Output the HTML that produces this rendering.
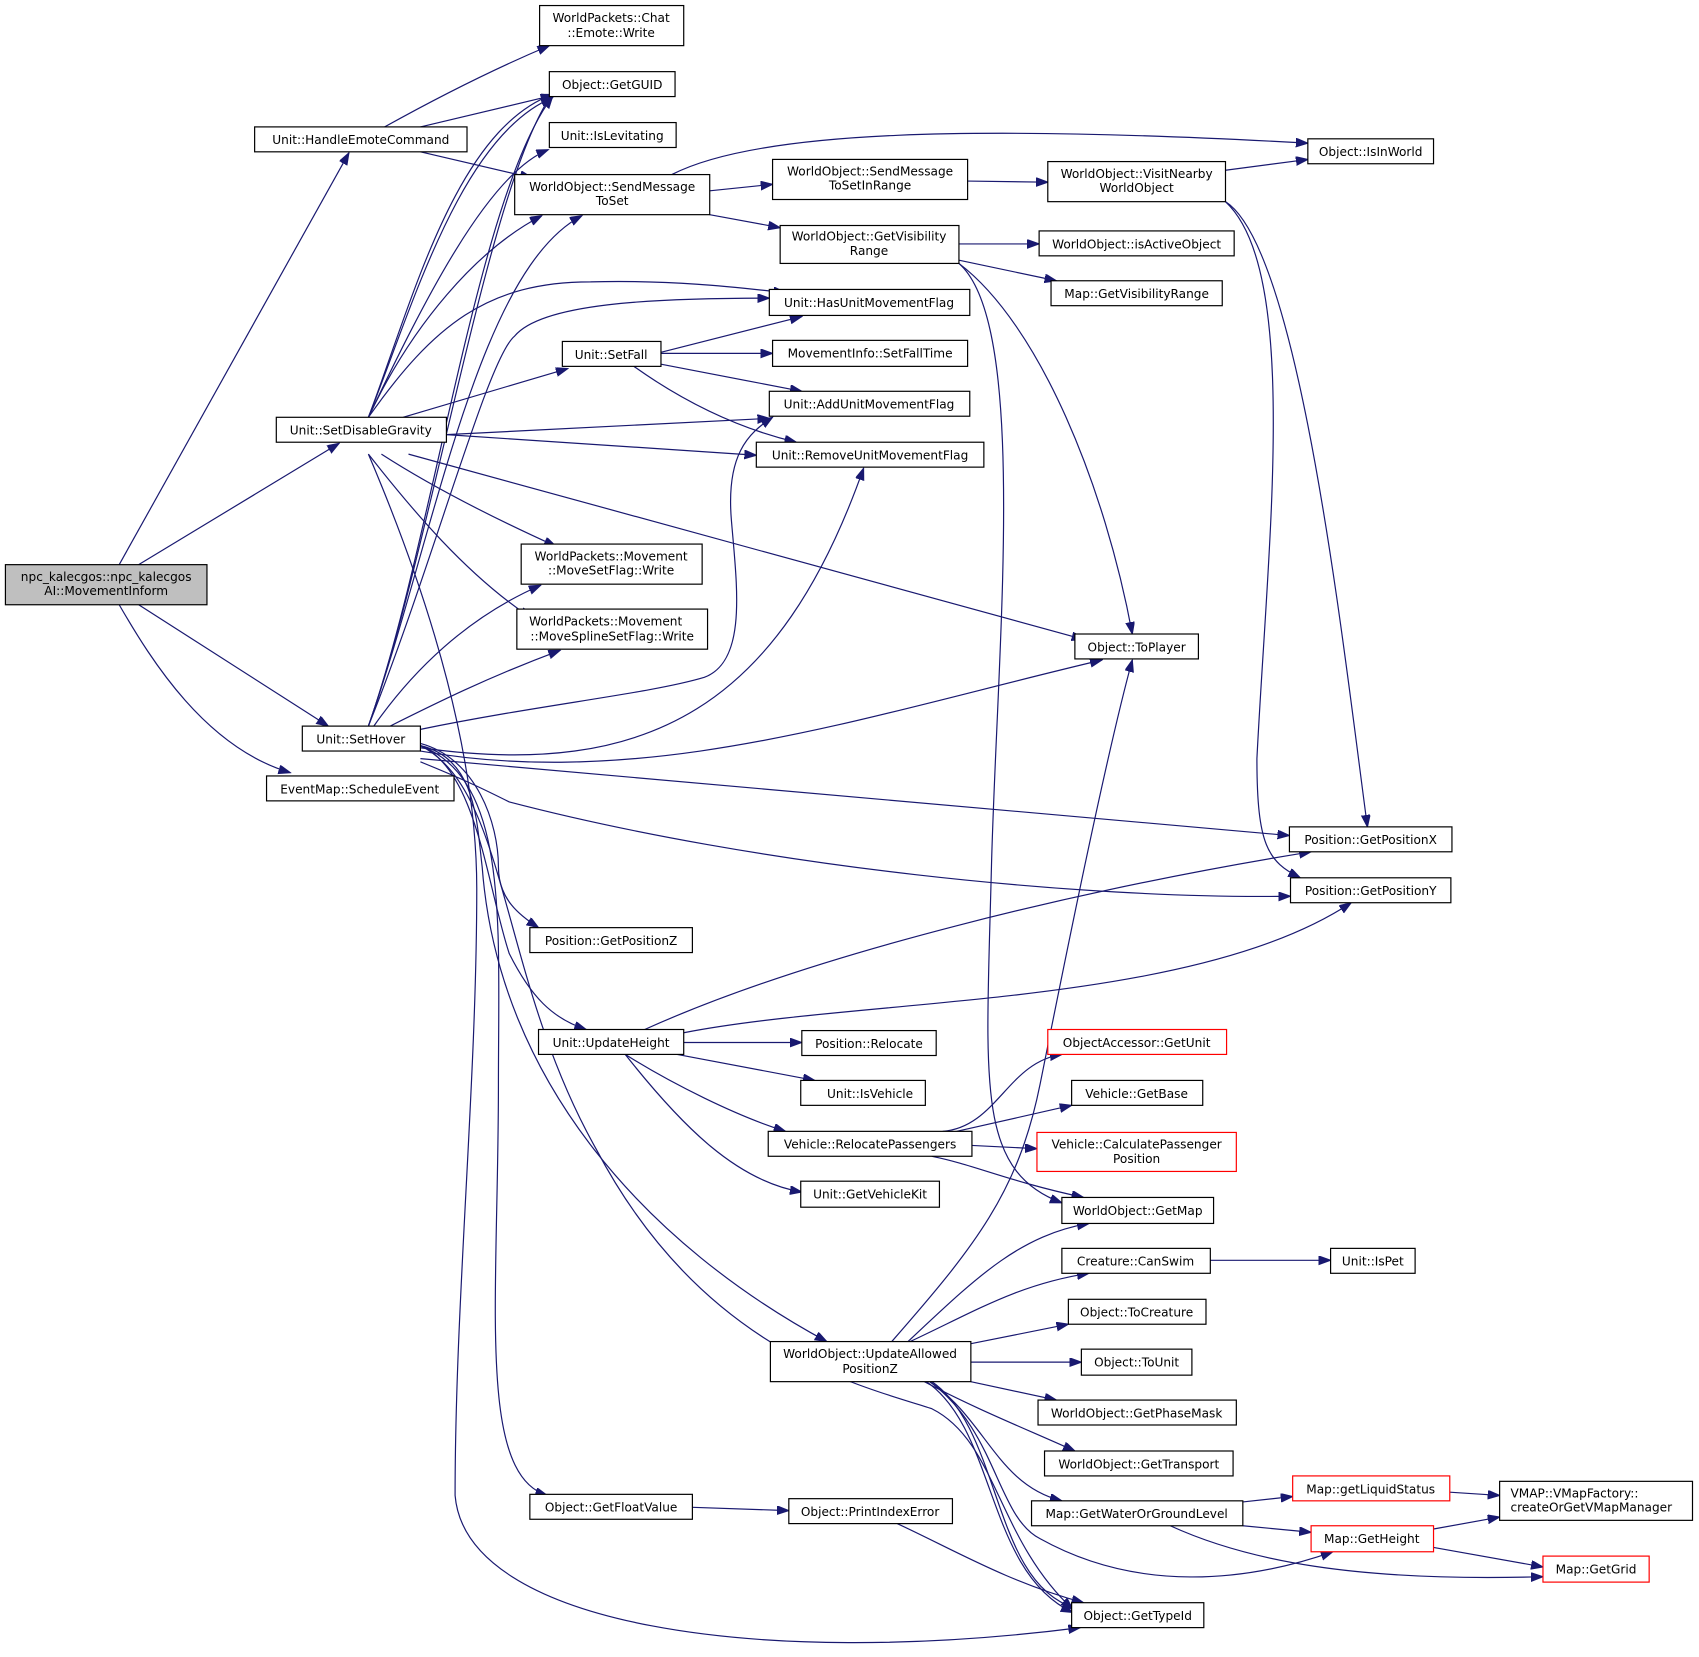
<!DOCTYPE html>
<html><head><meta charset="utf-8"><style>
html,body{margin:0;padding:0;background:#fff;}
svg{display:block}
text{font-family:"DejaVu Sans","Liberation Sans",sans-serif;font-size:11.2px;fill:#000}
.n{fill:#fff;stroke:#000;stroke-width:1.1}
.r{fill:#fff;stroke:#f00;stroke-width:1.1}
.e{fill:none;stroke:#191970;stroke-width:1.1;marker-end:url(#a)}
</style></head><body>
<svg width="1699" height="1657" viewBox="0 0 1568 1529" xmlns="http://www.w3.org/2000/svg">
<defs><marker id="a" markerUnits="userSpaceOnUse" markerWidth="12" markerHeight="10" refX="11" refY="4" orient="auto"><path d="M0,0 L11,4 L0,8 Z" fill="#191970" stroke="#191970"/></marker></defs>
<g>
<path class="e" d="M110,521 L322,141"/>
<path class="e" d="M128,521 L313,409"/>
<path class="e" d="M128,558 L303,670"/>
<path class="e" d="M110,558 C140,610 190,690 268,713"/>
<path class="e" d="M355,117 C400,92 450,66 507,42"/>
<path class="e" d="M388,117 L510,88"/>
<path class="e" d="M388,140 L491,164"/>
<path class="e" d="M340,385 C380,280 420,120 510,87"/>
<path class="e" d="M340,385 C380,285 425,125 510,90"/>
<path class="e" d="M340,385 C390,280 450,160 506,138"/>
<path class="e" d="M340,385 C380,300 440,230 500,199"/>
<path class="e" d="M340,385 C400,300 450,260 545,260 C620,258 680,265 725,270"/>
<path class="e" d="M372,385 L524,340"/>
<path class="e" d="M412,401 L710,386"/>
<path class="e" d="M412,401 L698,420"/>
<path class="e" d="M377,419 L1000,590"/>
<path class="e" d="M352,419 C400,450 460,480 513,504"/>
<path class="e" d="M340,419 C380,470 430,530 490,570"/>
<path class="e" d="M340,419 C400,560 440,700 440,820 C440,1000 420,1200 420,1380 C430,1500 700,1540 997,1502"/>
<path class="e" d="M340,670 C400,500 450,170 510,86"/>
<path class="e" d="M340,670 C400,500 440,180 510,89"/>
<path class="e" d="M340,670 C400,500 440,250 537,199"/>
<path class="e" d="M340,670 C400,520 450,330 475,310 C500,280 600,275 710,275"/>
<path class="e" d="M345,670 C380,620 430,570 499,540"/>
<path class="e" d="M360,670 C400,650 450,625 517,600"/>
<path class="e" d="M388,673 C500,650 600,640 650,625 C690,610 680,540 675,480 C670,420 690,400 713,385"/>
<path class="e" d="M388,690 C600,720 720,650 797,432"/>
<path class="e" d="M388,693 C600,730 800,660 1017,609"/>
<path class="e" d="M388,700 L1190,771"/>
<path class="e" d="M388,703 C430,720 450,730 470,740 C700,800 1000,830 1191,827"/>
<path class="e" d="M388,686 C440,700 460,760 460,800 C460,830 480,845 497,856"/>
<path class="e" d="M388,688 C440,710 450,820 470,880 C490,920 510,940 541,950"/>
<path class="e" d="M388,688 C440,700 440,760 445,800 C460,1000 600,1150 763,1238"/>
<path class="e" d="M388,688 C470,720 460,850 460,1000 C460,1200 440,1360 505,1380"/>
<path class="e" d="M388,688 C470,730 460,900 550,1060 C650,1250 800,1280 860,1300 C920,1330 920,1420 990,1485"/>
<path class="e" d="M620,161 C700,120 900,115 1207,132"/>
<path class="e" d="M655,176 L713,170"/>
<path class="e" d="M655,198 L720,210"/>
<path class="e" d="M893,167 L967,168"/>
<path class="e" d="M1131,157 L1207,147"/>
<path class="e" d="M1131,186 C1200,230 1240,600 1262,763"/>
<path class="e" d="M1131,186 C1200,250 1170,500 1160,700 C1160,780 1170,795 1200,810"/>
<path class="e" d="M885,225 L959,225"/>
<path class="e" d="M885,240 L975,259"/>
<path class="e" d="M885,243 C960,300 1020,450 1045,585"/>
<path class="e" d="M885,243 C950,300 920,600 915,800 C910,1000 900,1080 980,1110"/>
<path class="e" d="M610,325 L740,292"/>
<path class="e" d="M610,326 L713,326"/>
<path class="e" d="M610,336 L740,361"/>
<path class="e" d="M585,338 C630,370 680,395 735,408"/>
<path class="e" d="M595,950 C750,880 1000,820 1210,786"/>
<path class="e" d="M631,953 C800,920 1100,930 1247,833"/>
<path class="e" d="M631,962 L740,962"/>
<path class="e" d="M625,973 L752,997"/>
<path class="e" d="M577,973 C620,1000 680,1030 725,1044"/>
<path class="e" d="M577,973 C630,1040 680,1090 740,1100"/>
<path class="e" d="M870,1044 C920,1040 930,980 980,973"/>
<path class="e" d="M883,1044 L989,1020"/>
<path class="e" d="M897,1057 L957,1060"/>
<path class="e" d="M860,1067 C900,1075 930,1090 1000,1105"/>
<path class="e" d="M823,1238 C900,1150 940,1100 960,1000 C980,900 1020,700 1045,609"/>
<path class="e" d="M838,1238 C900,1180 940,1140 1005,1129"/>
<path class="e" d="M840,1238 C900,1210 940,1185 1005,1175"/>
<path class="e" d="M896,1240 L986,1222"/>
<path class="e" d="M896,1257 L998,1257"/>
<path class="e" d="M896,1275 L975,1292"/>
<path class="e" d="M853,1275 C900,1300 950,1320 992,1339"/>
<path class="e" d="M858,1275 C910,1310 920,1370 980,1385"/>
<path class="e" d="M855,1275 C920,1320 910,1450 990,1488"/>
<path class="e" d="M860,1275 C925,1320 915,1460 992,1484"/>
<path class="e" d="M858,1275 C920,1320 920,1400 960,1420 C1050,1470 1150,1460 1230,1432"/>
<path class="e" d="M1117,1163 L1228,1163"/>
<path class="e" d="M639,1391 L728,1394"/>
<path class="e" d="M828,1406 C880,1430 930,1460 1000,1479"/>
<path class="e" d="M1147,1386 L1193,1381"/>
<path class="e" d="M1147,1408 L1210,1414"/>
<path class="e" d="M1080,1408 C1150,1440 1250,1460 1424,1455"/>
<path class="e" d="M1338,1377 L1384,1380"/>
<path class="e" d="M1323,1411 L1384,1400"/>
<path class="e" d="M1323,1428 L1424,1446"/>
</g>
<g text-anchor="middle">
<rect x="5" y="521" width="186" height="37" fill="#bfbfbf" stroke="#000" stroke-width="1.1"/><text x="98" y="536">npc_kalecgos::npc_kalecgos</text><text x="98" y="549">AI::MovementInform</text>
<rect class="n" x="498" y="5" width="133" height="37"/><text x="564" y="20">WorldPackets::Chat</text><text x="564" y="34">::Emote::Write</text>
<rect class="n" x="507" y="66" width="116" height="23"/><text x="565" y="82">Object::GetGUID</text>
<rect class="n" x="235" y="117" width="196" height="23"/><text x="333" y="133">Unit::HandleEmoteCommand</text>
<rect class="n" x="507" y="113" width="117" height="23"/><text x="565" y="129">Unit::IsLevitating</text>
<rect class="n" x="475" y="161" width="180" height="37"/><text x="565" y="176">WorldObject::SendMessage</text><text x="565" y="189">ToSet</text>
<rect class="n" x="1207" y="128" width="116" height="23"/><text x="1265" y="144">Object::IsInWorld</text>
<rect class="n" x="713" y="147" width="180" height="37"/><text x="803" y="162">WorldObject::SendMessage</text><text x="803" y="175">ToSetInRange</text>
<rect class="n" x="967" y="149" width="164" height="37"/><text x="1049" y="164">WorldObject::VisitNearby</text><text x="1049" y="177">WorldObject</text>
<rect class="n" x="720" y="208" width="165" height="35"/><text x="802" y="222">WorldObject::GetVisibility</text><text x="802" y="235">Range</text>
<rect class="n" x="959" y="213" width="180" height="23"/><text x="1049" y="229">WorldObject::isActiveObject</text>
<rect class="n" x="970" y="259" width="158" height="23"/><text x="1049" y="275">Map::GetVisibilityRange</text>
<rect class="n" x="710" y="267" width="185" height="24"/><text x="802" y="283">Unit::HasUnitMovementFlag</text>
<rect class="n" x="519" y="315" width="91" height="23"/><text x="564" y="331">Unit::SetFall</text>
<rect class="n" x="713" y="314" width="180" height="24"/><text x="803" y="330">MovementInfo::SetFallTime</text>
<rect class="n" x="710" y="361" width="185" height="23"/><text x="802" y="377">Unit::AddUnitMovementFlag</text>
<rect class="n" x="255" y="385" width="157" height="23"/><text x="333" y="401">Unit::SetDisableGravity</text>
<rect class="n" x="698" y="408" width="210" height="23"/><text x="803" y="424">Unit::RemoveUnitMovementFlag</text>
<rect class="n" x="481" y="502" width="167" height="37"/><text x="564" y="517">WorldPackets::Movement</text><text x="564" y="530">::MoveSetFlag::Write</text>
<rect class="n" x="477" y="562" width="176" height="37"/><text x="559" y="577">WorldPackets::Movement</text><text x="565" y="591">::MoveSplineSetFlag::Write</text>
<rect class="n" x="992" y="585" width="114" height="23"/><text x="1049" y="601">Object::ToPlayer</text>
<rect class="n" x="279" y="670" width="109" height="23"/><text x="333" y="686">Unit::SetHover</text>
<rect class="n" x="246" y="716" width="173" height="23"/><text x="332" y="732">EventMap::ScheduleEvent</text>
<rect class="n" x="1190" y="763" width="150" height="23"/><text x="1265" y="779">Position::GetPositionX</text>
<rect class="n" x="1191" y="810" width="148" height="23"/><text x="1265" y="826">Position::GetPositionY</text>
<rect class="n" x="489" y="856" width="150" height="23"/><text x="564" y="872">Position::GetPositionZ</text>
<rect class="n" x="497" y="950" width="134" height="23"/><text x="564" y="966">Unit::UpdateHeight</text>
<rect class="n" x="740" y="951" width="124" height="23"/><text x="802" y="967">Position::Relocate</text>
<rect class="r" x="967" y="950" width="165" height="23"/><text x="1049" y="966">ObjectAccessor::GetUnit</text>
<rect class="n" x="739" y="997" width="115" height="23"/><text x="803" y="1013">Unit::IsVehicle</text>
<rect class="n" x="989" y="997" width="121" height="23"/><text x="1049" y="1013">Vehicle::GetBase</text>
<rect class="n" x="709" y="1044" width="188" height="23"/><text x="803" y="1060">Vehicle::RelocatePassengers</text>
<rect class="r" x="957" y="1045" width="184" height="36"/><text x="1049" y="1060">Vehicle::CalculatePassenger</text><text x="1049" y="1073">Position</text>
<rect class="n" x="739" y="1090" width="128" height="24"/><text x="803" y="1106">Unit::GetVehicleKit</text>
<rect class="n" x="980" y="1105" width="140" height="24"/><text x="1050" y="1121">WorldObject::GetMap</text>
<rect class="n" x="980" y="1152" width="137" height="23"/><text x="1048" y="1168">Creature::CanSwim</text>
<rect class="n" x="1228" y="1152" width="78" height="23"/><text x="1267" y="1168">Unit::IsPet</text>
<rect class="n" x="986" y="1199" width="127" height="23"/><text x="1049" y="1215">Object::ToCreature</text>
<rect class="n" x="711" y="1238" width="185" height="37"/><text x="803" y="1253">WorldObject::UpdateAllowed</text><text x="803" y="1267">PositionZ</text>
<rect class="n" x="998" y="1245" width="102" height="24"/><text x="1049" y="1261">Object::ToUnit</text>
<rect class="n" x="958" y="1292" width="183" height="23"/><text x="1049" y="1308">WorldObject::GetPhaseMask</text>
<rect class="n" x="964" y="1339" width="174" height="23"/><text x="1051" y="1355">WorldObject::GetTransport</text>
<rect class="r" x="1193" y="1362" width="145" height="23"/><text x="1265" y="1378">Map::getLiquidStatus</text>
<rect class="n" x="1384" y="1367" width="178" height="36"/>
<rect class="n" x="952" y="1385" width="195" height="23"/><text x="1049" y="1401">Map::GetWaterOrGroundLevel</text>
<rect class="n" x="489" y="1379" width="150" height="23"/><text x="564" y="1395">Object::GetFloatValue</text>
<rect class="n" x="728" y="1383" width="151" height="23"/><text x="803" y="1399">Object::PrintIndexError</text>
<rect class="r" x="1210" y="1408" width="113" height="24"/><text x="1266" y="1424">Map::GetHeight</text>
<rect class="r" x="1424" y="1436" width="98" height="24"/><text x="1473" y="1452">Map::GetGrid</text>
<rect class="n" x="989" y="1479" width="122" height="23"/><text x="1050" y="1495">Object::GetTypeId</text>
</g>
<text x="1394" y="1382">VMAP::VMapFactory::</text>
<text x="1394" y="1395">createOrGetVMapManager</text>
</svg>
</body></html>
